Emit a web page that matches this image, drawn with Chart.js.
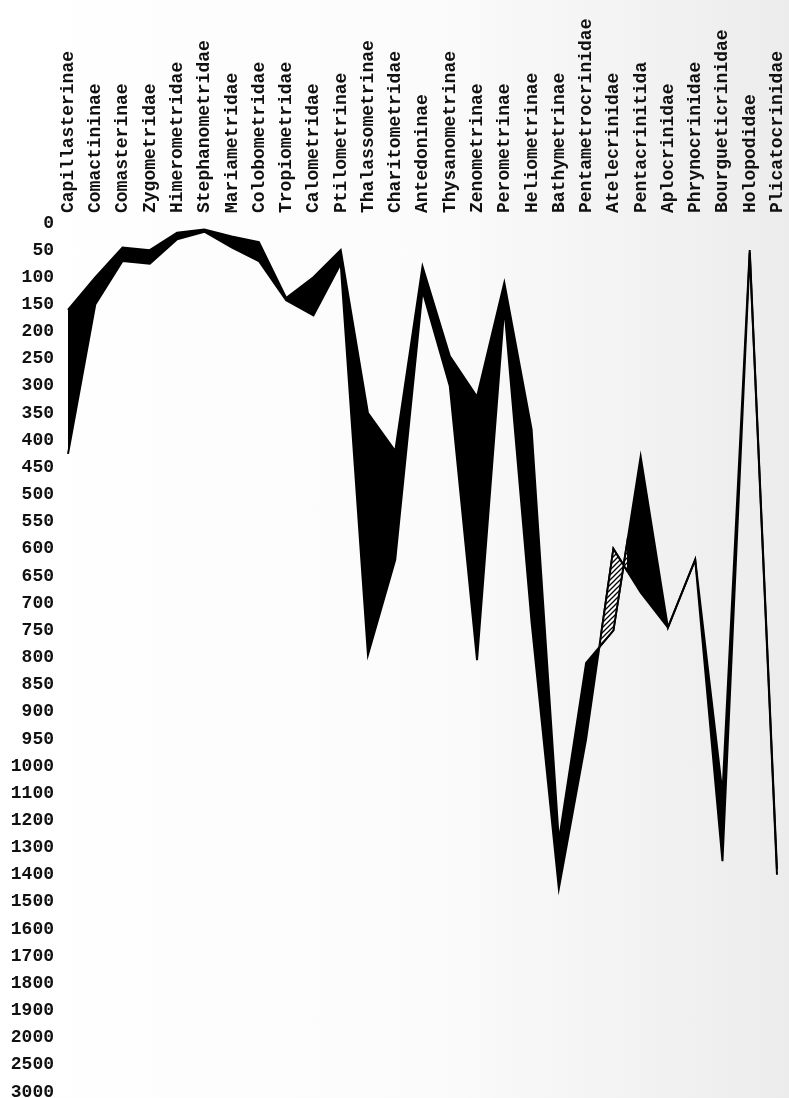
<!DOCTYPE html>
<html lang="en">
<head>
    <meta charset="UTF-8">
    <title>Bathymetric range of crinoid families</title>
    <script src="https://cdn.jsdelivr.net/npm/chart.js"></script>
    <style>
        html, body {
            margin: 0;
            padding: 0;
            width: 789px;
            height: 1098px;
            background: linear-gradient(to right, #ffffff 0%, #fbfbfb 55%, #ececec 100%);
            overflow: hidden;
        }
        #wrap {
            width: 789px;
            height: 1098px;
        }
    </style>
</head>
<body>
<div id="wrap"><canvas id="depthChart"></canvas></div>

<script>
    // families along the top
    const families = [
        'Capillasterinae', 'Comactininae', 'Comasterinae', 'Zygometridae', 'Himerometridae',
        'Stephanometridae', 'Mariametridae', 'Colobometridae', 'Tropiometridae', 'Calometridae',
        'Ptilometrinae', 'Thalassometrinae', 'Charitometridae', 'Antedoninae', 'Thysanometrinae',
        'Zenometrinae', 'Perometrinae', 'Heliometrinae', 'Bathymetrinae', 'Pentametrocrinidae',
        'Atelecrinidae', 'Pentacrinitida', 'Aplocrinidae', 'Phrynocrinidae', 'Bourgueticrinidae',
        'Holopodidae', 'Plicatocrinidae'
    ];

    // the two edges of the band as drawn on the plate, fathoms.
    // mostly edgeA = shallowest, edgeB = deepest; the plate swaps them
    // at Atelecrinidae, so the band twists there.
    const edgeA = [160, 100, 45, 50, 18, 12, 25, 35, 138, 100,
                   50, 350, 420, 80, 245, 320, 110, 380, 1275, 810,
                   750, 430, 745, 620, 1100, 50, 1380];
    const edgeB = [425, 150, 70, 75, 30, 16, 45, 70, 142, 170,
                   75, 795, 620, 125, 300, 805, 155, 735, 1450, 950,
                   600, 680, 745, 620, 1350, 55, 1400];

    // depth scale printed down the left side (evenly spaced, not linear)
    const depthTicks = [0, 50, 100, 150, 200, 250, 300, 350, 400, 450, 500, 550, 600, 650,
                        700, 750, 800, 850, 900, 950, 1000, 1100, 1200, 1300, 1400, 1500,
                        1600, 1700, 1800, 1900, 2000, 2500, 3000];

    // the only hatched family on the plate
    const hatchedFamily = 'Atelecrinidae';

    // map a depth onto the evenly spaced tick positions
    function depthToPos(d) {
        for (let i = 0; i < depthTicks.length - 1; i++) {
            if (d <= depthTicks[i + 1]) {
                return i + (d - depthTicks[i]) / (depthTicks[i + 1] - depthTicks[i]);
            }
        }
        return depthTicks.length - 1;
    }

    function makeHatch() {
        const c = document.createElement('canvas');
        c.width = 5; c.height = 5;
        const g = c.getContext('2d');
        g.strokeStyle = '#000';
        g.lineWidth = 1.3;
        g.beginPath();
        g.moveTo(-1, 6); g.lineTo(6, -1);
        g.moveTo(-1, 1); g.lineTo(1, -1);
        g.moveTo(4, 6); g.lineTo(6, 4);
        g.stroke();
        return c;
    }

    const hatchPlugin = {
        id: 'hatch',
        afterDatasetsDraw(chart) {
            const i = families.indexOf(hatchedFamily);
            const xs = chart.scales.x;
            const a = chart.getDatasetMeta(0).data;
            const b = chart.getDatasetMeta(1).data;
            const left = xs.getPixelForValue(i - 0.5);
            const right = xs.getPixelForValue(i + 0.5);
            const ctx = chart.ctx;
            ctx.save();
            ctx.beginPath();
            ctx.rect(left, chart.chartArea.top, right - left, chart.chartArea.height);
            ctx.clip();
            ctx.beginPath();
            for (let k = i - 1; k <= i + 1; k++) ctx.lineTo(a[k].x, a[k].y);
            for (let k = i + 1; k >= i - 1; k--) ctx.lineTo(b[k].x, b[k].y);
            ctx.closePath();
            ctx.fillStyle = '#fff';
            ctx.fill();
            ctx.fillStyle = ctx.createPattern(makeHatch(), 'repeat');
            ctx.fill();
            ctx.lineWidth = 2;
            ctx.strokeStyle = '#000';
            ctx.stroke();
            ctx.restore();
        }
    };

    const typeFont = { family: '"Liberation Mono", "DejaVu Sans Mono", monospace', size: 18, weight: 'bold' };

    const ctx = document.getElementById('depthChart').getContext('2d');
    new Chart(ctx, {
        type: 'line',
        data: {
            labels: families,
            datasets: [{
                label: 'edge A',
                data: edgeA.map(depthToPos),
                borderColor: '#000',
                borderWidth: 2,
                pointRadius: 0,
                tension: 0,
                fill: false
            }, {
                label: 'edge B',
                data: edgeB.map(depthToPos),
                borderColor: '#000',
                borderWidth: 2,
                backgroundColor: '#000',
                pointRadius: 0,
                tension: 0,
                fill: '-1'
            }]
        },
        options: {
            responsive: true,
            maintainAspectRatio: false,
            animation: false,
            layout: { padding: { top: 0, left: 11, right: 12, bottom: 0 } },
            plugins: {
                legend: { display: false },
                tooltip: { enabled: false }
            },
            scales: {
                x: {
                    position: 'top',
                    grid: { display: false, drawTicks: false },
                    border: { display: false },
                    ticks: {
                        autoSkip: false,
                        minRotation: 90,
                        maxRotation: 90,
                        padding: 10,
                        labelOffset: 22,
                        color: '#111',
                        font: typeFont
                    },
                    afterFit: (a) => {
                        a.height = 223;
                        a.paddingLeft = 0;
                        a.paddingRight = 0;
                    }
                },
                y: {
                    reverse: true,
                    min: 0,
                    max: depthTicks.length - 1,
                    grid: { display: false, drawTicks: false },
                    border: { display: false },
                    ticks: {
                        stepSize: 1,
                        padding: 14,
                        color: '#111',
                        font: typeFont,
                        callback: (v) => depthTicks[v]
                    },
                    afterFit: (a) => {
                        a.width = 57;
                        a.paddingTop = 0;
                        a.paddingBottom = 6;
                    }
                }
            }
        },
        plugins: [hatchPlugin]
    });
</script>
</body>
</html>
